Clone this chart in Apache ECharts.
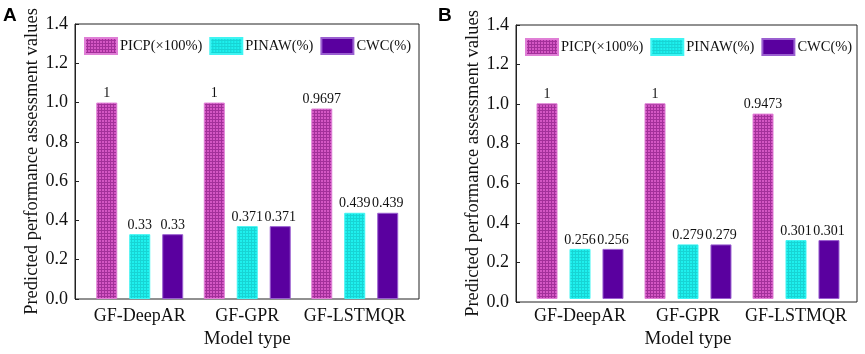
<!DOCTYPE html>
<html><head><meta charset="utf-8">
<script src="https://cdn.jsdelivr.net/npm/echarts@6/dist/echarts.min.js"></script>
<style>html,body{margin:0;padding:0;background:#fff}#c{width:865px;height:354px}</style>
</head><body><div id="c"></div>
<script>
var categories = ['GF-DeepAR', 'GF-GPR', 'GF-LSTMQR'];
var seriesNames = ['PICP(×100%)', 'PINAW(%)', 'CWC(%)'];
var picpA = [1, 1, 0.9697];
var pinawA = [0.33, 0.371, 0.439];
var cwcA = [0.33, 0.371, 0.439];
var picpB = [1, 1, 0.9473];
var pinawB = [0.256, 0.279, 0.301];
var cwcB = [0.256, 0.279, 0.301];
var yTicks = [0, 1.4, 0.2];

function pattern(base, line) {
  var c = document.createElement('canvas');
  c.width = 3; c.height = 3;
  var g = c.getContext('2d');
  g.fillStyle = base; g.fillRect(0, 0, 3, 3);
  g.fillStyle = line; g.fillRect(2, 0, 1, 3); g.fillRect(0, 2, 3, 1);
  return {image: c, repeat: 'repeat'};
}
var picpColor = pattern('#d457c4', '#a3309a');
var pinawColor = pattern('#1ef0ee', '#17d4d4');
var cwcColor = '#5a009f';
var colors = [picpColor, pinawColor, cwcColor];
var borders = ['#e07fd6', '#3ff5f3', '#9a5fd0'];

var serif = 'Liberation Serif';
var chart = echarts.init(document.getElementById('c'), null, {renderer: 'canvas'});

var frames = [
  {left: 75, right: 446, top: 24, bottom: 55},
  {left: 516, right: 8, top: 25, bottom: 52}
];
var dataGrids = [
  {left: 86, width: 322.5, top: 24, bottom: 55},
  {left: 526, width: 324, top: 25, bottom: 52}
];
var panelData = [[picpA, pinawA, cwcA], [picpB, pinawB, cwcB]];

var grid = [], xAxis = [], yAxis = [], series = [], legend = [];
for (var p = 0; p < 2; p++) {
  var f = frames[p];
  grid.push({left: f.left, right: f.right, top: f.top, bottom: f.bottom, show: true,
    borderColor: '#222', borderWidth: 1, backgroundColor: 'transparent', containLabel: false});
  var d = dataGrids[p];
  grid.push({left: d.left, width: d.width, top: d.top, bottom: d.bottom, containLabel: false});
  var fi = p * 2, di = p * 2 + 1;
  xAxis.push({type: 'value', gridIndex: fi, show: false, min: 0, max: 1});
  yAxis.push({type: 'value', gridIndex: fi, min: yTicks[0], max: yTicks[1], interval: yTicks[2],
    axisLine: {show: true, lineStyle: {color: '#222', width: 1}},
    axisTick: {show: true, inside: true, length: 4, lineStyle: {color: '#222'}},
    splitLine: {show: false},
    axisLabel: {fontFamily: serif, fontSize: 18, color: '#111', margin: 7,
      formatter: function (v) { return v.toFixed(1); }},
    name: 'Predicted performance assessment values', nameLocation: 'middle', nameGap: 33,
    nameTextStyle: {fontFamily: serif, fontSize: 18.5, color: '#111'}});
  xAxis.push({type: 'category', gridIndex: di, data: categories,
    axisLine: {show: false}, axisTick: {show: false},
    axisLabel: {fontFamily: serif, fontSize: 18, color: '#111', margin: 8, interval: 0, hideOverlap: false},
    name: 'Model type', nameLocation: 'middle', nameGap: 31,
    nameTextStyle: {fontFamily: serif, fontSize: 19, color: '#111'}});
  yAxis.push({type: 'value', gridIndex: di, min: yTicks[0], max: yTicks[1], show: false});
  for (var s = 0; s < 3; s++) {
    series.push({type: 'bar', name: seriesNames[s], xAxisIndex: di, yAxisIndex: di,
      data: panelData[p][s], barWidth: 21, barGap: '57%',
      itemStyle: {color: colors[s], borderColor: borders[s], borderWidth: 1},
      label: {show: true, position: 'top', distance: 2, fontFamily: serif, fontSize: 14, color: '#111',
        formatter: function (pr) { return String(pr.value); }}});
  }
  legend.push({left: p === 0 ? 79 : 520, top: p === 0 ? 32 : 33, orient: 'horizontal',
    itemWidth: 32, itemHeight: 16, itemGap: 7, icon: 'rect',
    textStyle: {fontFamily: serif, fontSize: 14.5, color: '#111', padding: [0, 0, 0, -2]},
    data: seriesNames});
}

chart.setOption({
  animation: false,
  backgroundColor: '#fff',
  grid: grid, xAxis: xAxis, yAxis: yAxis, series: series, legend: legend,
  graphic: [
    {type: 'text', left: 3, top: 6, style: {text: 'A', fontFamily: 'Liberation Sans', fontWeight: 'bold', fontSize: 19, fill: '#000'}},
    {type: 'text', left: 438, top: 6, style: {text: 'B', fontFamily: 'Liberation Sans', fontWeight: 'bold', fontSize: 19, fill: '#000'}}
  ]
});
</script></body></html>
